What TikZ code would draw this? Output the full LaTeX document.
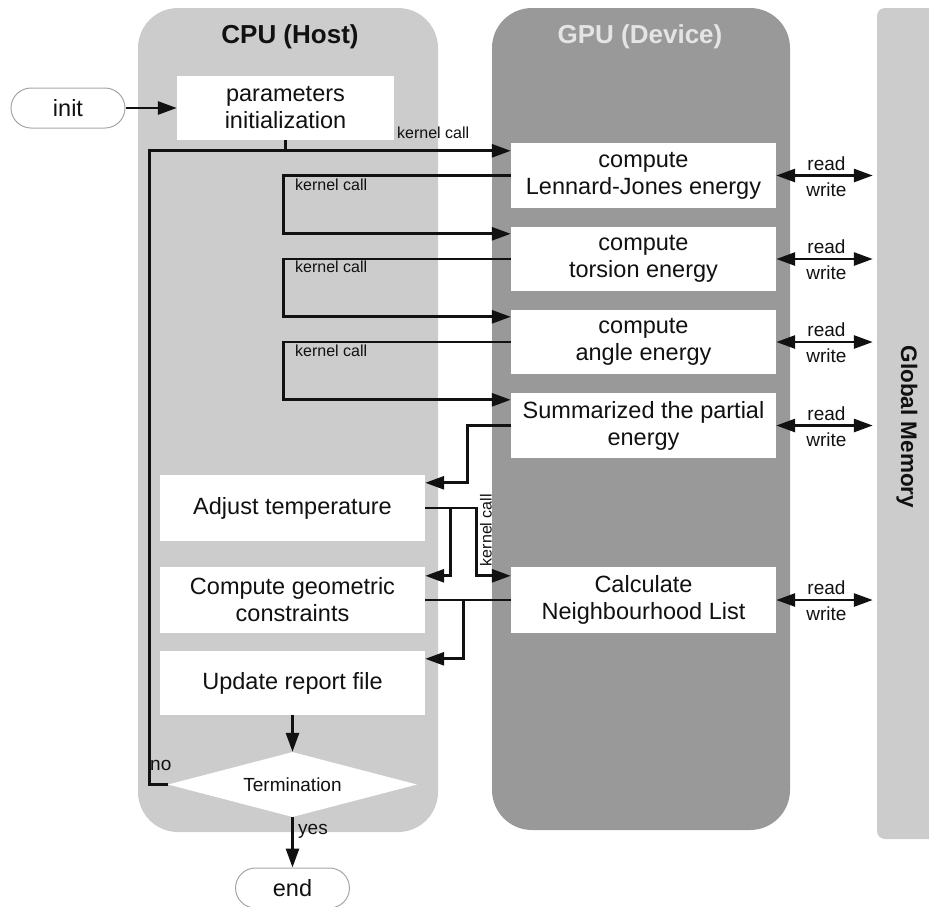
\documentclass[tikz,border=0pt]{standalone}
\usepackage{fontspec}
\setmainfont{Liberation Sans}
\usetikzlibrary{shapes.geometric,arrows.meta}
\definecolor{cpugray}{HTML}{CCCCCC}
\definecolor{gpugray}{HTML}{999999}
\definecolor{memgray}{HTML}{CCCCCC}
\definecolor{titlegpu}{HTML}{E4E4E4}
\definecolor{ink}{HTML}{111111}
\begin{document}
\begin{tikzpicture}[x=1pt,y=-1pt,
  panel/.style={inner sep=0pt, draw=none},
  box/.style={fill=white, minimum width=265pt, inner sep=0pt, align=center, text=ink,
    font=\fontsize{23.5}{27}\selectfont},
  pill/.style={draw=gray!70, line width=1pt, fill=white, rounded corners=20pt, minimum width=114pt,
    minimum height=40pt, inner sep=0pt, text=ink, font=\fontsize{23.5}{27}\selectfont},
  title/.style={font=\bfseries\fontsize{26}{30}\selectfont},
  small/.style={font=\fontsize{16}{18}\selectfont, inner sep=0pt, text=ink},
  lab/.style={font=\fontsize{19}{22}\selectfont, inner sep=0pt, text=ink},
  ln/.style={line width=2.8pt, draw=ink},
  arr/.style={ln, -{Triangle[length=19pt,width=13pt]}},
  rw/.style={ln, {Triangle[length=19pt,width=13pt]}-{Triangle[length=19pt,width=13pt]}, shorten >=4pt}
]
\useasboundingbox (0,0) rectangle (929,906);

% panels
\node[panel, fill=cpugray, rounded corners=40pt, minimum width=300pt, minimum height=824pt] (cpu) at (288,420) {};
\node[panel, fill=gpugray, rounded corners=40pt, minimum width=298pt, minimum height=822pt] (gpu) at (641,419) {};
\node[panel, fill=memgray, rounded corners=8pt, minimum width=68pt, minimum height=831pt] (mem) at (911,423.5) {};

\node[title, text=ink] (cputitle) at (290,37) {CPU (Host)};
\node[title, text=titlegpu] (gputitle) at (640,37) {GPU (Device)};
\node[font=\bfseries\fontsize{22.5}{26}\selectfont, text=ink, rotate=-90] (memtitle) at (907,427) {Global Memory};

% nodes
\node[pill] (init) at (68,108) {init};
\node[box, minimum width=217pt, minimum height=64pt] (param) at (285.5,108) {parameters\\initialization};

\node[box, minimum height=65pt] (LJ) at (643.5,175.5) {compute\\Lennard-Jones energy};
\node[box, minimum height=64pt] (torsion) at (643.5,259) {compute\\torsion energy};
\node[box, minimum height=64pt] (angle) at (643.5,342) {compute\\angle energy};
\node[box, minimum height=65pt] (summ) at (643.5,425.5) {Summarized the partial\\energy};
\node[box, minimum height=66pt] (neigh) at (643.5,600) {Calculate\\Neighbourhood List};

\node[box, minimum height=66pt] (adjust) at (292.5,508) {Adjust temperature};
\node[box, minimum height=66pt] (geom) at (292.5,600) {Compute geometric\\constraints};
\node[box, minimum height=64pt] (report) at (292.5,683) {Update report file};

\node[diamond, aspect=3.83, fill=white, inner sep=0pt, minimum width=249pt, minimum height=65pt,
  text=ink, font=\fontsize{19}{22}\selectfont] (term) at (292.5,784.5) {Termination};
\node[pill] (end) at (292.5,888) {end};

% connectors
\draw[arr] (init.east) -- (param.west);
\draw[ln] (param.south) -- ++(0,10);
\draw[arr] (term.west) -- ++(-18,0) |- ([yshift=-8pt]LJ.north west);
\node[small, anchor=west] (kc0) at (397,133) {kernel call};

\draw[arr] (LJ.west) -- ++(-227,0) |- ([yshift=-7pt]torsion.north west);
\node[small, anchor=west] (kc1) at (295,185) {kernel call};
\draw[arr] (torsion.west) -- ++(-227,0) |- ([yshift=-7pt]angle.north west);
\node[small, anchor=west] (kc2) at (295,267) {kernel call};
\draw[arr] (angle.west) -- ++(-227,0) |- ([yshift=-7pt]summ.north west);
\node[small, anchor=west] (kc3) at (295,351) {kernel call};

\draw[arr] (summ.west) -- ++(-43,0) |- ([yshift=-8pt]adjust.north east);
\draw[arr] (adjust.east) -- ++(51,0) |- ([yshift=-9pt]neigh.north west);
\draw[arr] ([xshift=25pt]adjust.east) |- ([yshift=-9pt]geom.north east);
\node[small, rotate=90] (kc4) at (486,530) {kernel call};

\draw[ln] (neigh.west) -- (geom.east);
\draw[arr] ([xshift=38pt]geom.east) |- ([yshift=-8pt]report.north east);

\draw[arr] (report.south) -- (term.north);
\draw[arr] (term.south) -- (end.north);
\node[lab, anchor=west] (yes) at (298,831) {yes};
\node[lab, anchor=west] (no) at (150,765) {no};

% read / write
\foreach \n in {LJ,torsion,angle,summ,neigh}{
  \draw[rw] (\n.east) -- (\n.east -| mem.west)
    node[lab, midway, yshift=12pt] {read}
    node[lab, midway, yshift=-14pt] {write};
}
\end{tikzpicture}
\end{document}
